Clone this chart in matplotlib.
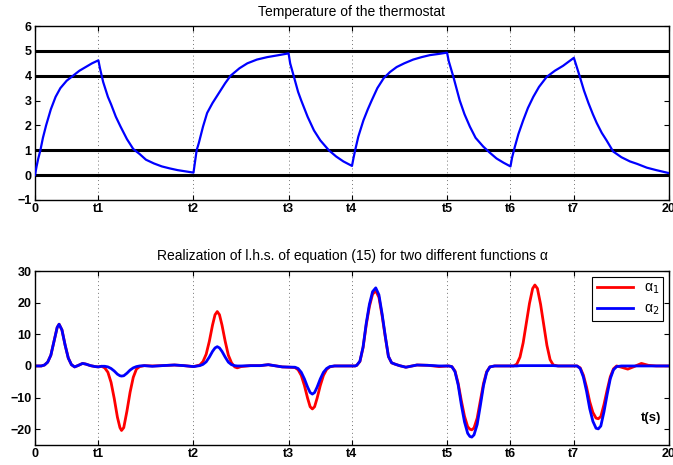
import matplotlib
matplotlib.use('Agg')
import matplotlib.pyplot as plt

plt.rcParams['font.family'] = ['Liberation Sans', 'DejaVu Sans']

# x axis: switching instants
tick_pos = [0, 2, 5, 8, 10, 13, 15, 17, 20]
tick_lab = ['0', 't1', 't2', 't3', 't4', 't5', 't6', 't7', '20']

# top panel: thermostat temperature
t_temp = [0.0, 0.05, 0.1, 0.17, 0.25, 0.35, 0.5, 0.65, 0.8, 1.0, 1.2, 1.4, 1.6, 1.8, 2.0,
          2.05, 2.15, 2.3, 2.4, 2.55, 2.7, 2.9, 3.1, 3.3, 3.5, 3.75, 4.0, 4.25, 4.5, 4.75, 5.0,
          5.05, 5.1, 5.17, 5.3, 5.43, 5.6, 5.75, 6.0, 6.17, 6.45, 6.7, 7.0, 7.33, 7.65, 8.0,
          8.05, 8.17, 8.3, 8.4, 8.6, 8.8, 9.0, 9.27, 9.5, 9.73, 10.0,
          10.05, 10.1, 10.2, 10.36, 10.5, 10.62, 10.8, 11.0, 11.2, 11.41, 11.65, 11.93, 12.2, 12.46, 12.75, 13.0,
          13.05, 13.2, 13.4, 13.55, 13.72, 13.9, 14.14, 14.35, 14.56, 14.78, 15.0,
          15.05, 15.14, 15.25, 15.4, 15.55, 15.72, 15.9, 16.14, 16.4, 16.66, 16.85, 17.0,
          17.08, 17.19, 17.32, 17.46, 17.6, 17.72, 17.88, 18.03, 18.24, 18.5, 18.77, 19.0, 19.3, 19.6, 20.0]
temp = [0.0, 0.35, 0.65, 1.0, 1.5, 2.0, 2.65, 3.15, 3.5, 3.8, 4.0, 4.2, 4.35, 4.5, 4.62,
        4.3, 3.75, 3.15, 2.85, 2.35, 1.95, 1.45, 1.05, 0.85, 0.62, 0.47, 0.35, 0.27, 0.2, 0.15, 0.1,
        0.55, 1.0, 1.3, 1.95, 2.5, 2.9, 3.2, 3.7, 4.0, 4.3, 4.5, 4.65, 4.75, 4.82, 4.9,
        4.5, 3.95, 3.35, 3.0, 2.35, 1.8, 1.4, 1.0, 0.75, 0.55, 0.37,
        0.7, 1.0, 1.55, 2.2, 2.65, 3.0, 3.5, 3.9, 4.15, 4.35, 4.5, 4.65, 4.75, 4.83, 4.88, 4.93,
        4.6, 3.95, 3.0, 2.45, 1.95, 1.5, 1.15, 0.9, 0.67, 0.5, 0.35,
        0.7, 1.15, 1.65, 2.2, 2.7, 3.15, 3.55, 3.95, 4.2, 4.4, 4.58, 4.72,
        4.4, 3.95, 3.4, 2.9, 2.45, 2.1, 1.7, 1.4, 0.95, 0.72, 0.55, 0.45, 0.3, 0.2, 0.08]
levels = [0, 1, 4, 5]

# bottom panel: l.h.s. of equation (15) for alpha_1 and alpha_2
t_eq = [0.0, 0.2, 0.3, 0.4, 0.5, 0.6, 0.7, 0.76, 0.85, 0.95, 1.05, 1.15, 1.25, 1.35, 1.5, 1.6, 1.75, 1.9, 2.0,
        2.1, 2.2, 2.3, 2.4, 2.5, 2.6, 2.68, 2.73, 2.8, 2.9, 3.0, 3.1, 3.2, 3.3, 3.45, 3.7, 4.0, 4.4, 4.7, 5.0,
        5.2, 5.3, 5.4, 5.5, 5.6, 5.68, 5.75, 5.82, 5.9, 6.0, 6.1, 6.2, 6.3, 6.38, 6.5, 6.8, 7.1, 7.36, 7.6, 7.8,
        8.2, 8.3, 8.4, 8.5, 8.6, 8.68, 8.75, 8.82, 8.9, 9.0, 9.1, 9.2, 9.3, 9.45, 9.8, 10.1,
        10.15, 10.25, 10.35, 10.45, 10.55, 10.65, 10.75, 10.85, 10.95, 11.05, 11.15, 11.25, 11.35, 11.5, 11.7,
        11.9, 12.05, 12.4, 12.75, 13.05,
        13.15, 13.25, 13.35, 13.45, 13.55, 13.65, 13.72, 13.78, 13.85, 13.95, 14.05, 14.15, 14.25, 14.35, 14.5,
        14.8, 15.0,
        15.1, 15.2, 15.3, 15.4, 15.5, 15.6, 15.7, 15.77, 15.85, 15.95, 16.05, 16.15, 16.25, 16.35, 16.5, 16.8, 17.0,
        17.1, 17.2, 17.3, 17.4, 17.5, 17.6, 17.7, 17.77, 17.85, 17.95, 18.05, 18.15, 18.25, 18.35, 18.5, 18.7,
        18.9, 19.13, 19.35, 19.6, 20.0]
eq_a1 = [0, 0, 0.3, 1.2, 3.4, 7.8, 12.2, 13.2, 11.4, 6.6, 2.5, 0.4, -0.3, 0.1, 0.8, 0.6, 0.1, -0.2, -0.3,
         -0.1, -0.6, -2.0, -5.2, -10.3, -16.2, -19.5, -20.4, -19.5, -14.3, -8.3, -3.6, -1.0, -0.2, 0.1, 0, 0.1, 0.3, 0.1, -0.2,
         0.3, 1.4, 3.7, 7.8, 12.9, 16.2, 17.2, 16.2, 12.9, 7.8, 3.4, 1.0, -0.3, -0.6, -0.2, 0.1, 0.1, 0.4, 0, -0.3,
         -0.5, -1.2, -3.0, -6.2, -10.2, -12.9, -13.6, -12.9, -10.2, -6.2, -3.0, -1.1, -0.3, 0, 0, 0,
         0.2, 1.4, 5.8, 13.0, 18.8, 22.7, 23.8, 21.7, 15.9, 9.2, 3.0, 1.0, 0.6, 0.1, -0.4,
         0, 0.3, 0.2, -0.2, 0,
         -0.2, -1.6, -5.5, -11.0, -15.9, -19.2, -20.0, -20.2, -19.6, -16.5, -11.0, -5.5, -1.8, -0.3, 0,
         0, 0,
         0, 0.6, 2.8, 7.3, 13.5, 19.8, 24.5, 25.6, 24.5, 19.5, 13.0, 6.5, 2.0, 0.3, 0, 0, 0,
         0, -0.6, -2.9, -6.7, -11.3, -14.7, -16.5, -16.7, -16.0, -12.2, -7.6, -3.4, -0.9, 0, -0.4, -1.0,
         -0.2, 0.8, 0.2, 0, 0]
eq_a2 = [0, 0, 0.3, 1.2, 3.4, 7.8, 12.2, 13.2, 11.4, 6.6, 2.5, 0.4, -0.3, 0.1, 0.8, 0.6, 0.1, -0.2, -0.3,
         -0.1, -0.1, -0.3, -0.8, -1.6, -2.6, -3.1, -3.2, -3.1, -2.3, -1.3, -0.6, -0.2, 0, 0.1, -0.1, 0.1, 0.3, 0.1, -0.2,
         0.1, 0.5, 1.3, 2.8, 4.6, 5.7, 6.1, 5.7, 4.6, 2.8, 1.2, 0.4, 0.1, 0, 0, 0.1, 0.1, 0.4, 0, -0.3,
         -0.4, -0.8, -2.0, -4.1, -6.7, -8.4, -8.9, -8.4, -6.7, -4.1, -2.0, -0.8, -0.2, 0, 0, 0,
         0.2, 1.5, 6.0, 13.5, 19.5, 23.5, 24.7, 22.5, 16.5, 9.5, 3.0, 1.0, 0.6, 0.1, -0.4,
         0, 0.3, 0.2, 0, 0,
         -0.2, -1.8, -6.0, -12.3, -17.7, -21.3, -22.3, -22.5, -21.8, -18.5, -12.5, -6.2, -2.0, -0.3, 0,
         0, 0,
         0, 0, 0.1, 0.1, 0.1, 0.1, 0.1, 0.1, 0.1, 0.1, 0.1, 0.1, 0.1, 0.1, 0, 0, 0,
         0, -0.8, -3.5, -8.0, -13.5, -17.5, -19.7, -19.9, -19.0, -14.5, -9.0, -4.0, -1.2, -0.2, 0, 0,
         0, 0, 0, 0, 0]


def matlab_style(ax):
    ax.set_xlim(0, 20)
    ax.set_xticks(tick_pos)
    ax.set_xticklabels(tick_lab)
    ax.tick_params(direction='in', top=True, right=True, length=3.5, width=0.8,
                   labelsize=9, pad=2.5)
    for lab in ax.get_xticklabels() + ax.get_yticklabels():
        lab.set_fontweight('bold')
    ax.grid(True, axis='x', linestyle=(0, (1, 3)), color='0.45', lw=0.7)
    for s in ax.spines.values():
        s.set_linewidth(1.0)


fig = plt.figure(figsize=(6.73, 4.65), dpi=100)

ax1 = fig.add_axes([0.052, 0.570, 0.942, 0.374])
for lv in levels:
    ax1.axhline(lv, color='k', lw=2.2, zorder=2)
ax1.plot(t_temp, temp, color='b', lw=1.6, zorder=3)
ax1.set_ylim(-1, 6)
ax1.set_yticks(range(-1, 7))
matlab_style(ax1)
ax1.set_title('Temperature of the thermostat', fontsize=10, pad=7)

ax2 = fig.add_axes([0.052, 0.043, 0.942, 0.374])
ax2.plot(t_eq, eq_a1, color='r', lw=2, label='α$_1$')
ax2.plot(t_eq, eq_a2, color='b', lw=2, label='α$_2$')
ax2.set_ylim(-25, 30)
ax2.set_yticks([-20, -10, 0, 10, 20, 30])
matlab_style(ax2)
ax2.set_title('Realization of l.h.s. of equation (15) for two different functions α',
              fontsize=10, pad=8)
ax2.text(19.75, -16.5, 't(s)', fontsize=9.5, fontweight='bold', ha='right', va='center')
leg = ax2.legend(loc='upper right', fontsize=10, fancybox=False, edgecolor='k',
                 framealpha=1, handlelength=2.6, borderaxespad=0.4, borderpad=0.3,
                 labelspacing=0.4)
leg.get_frame().set_linewidth(0.8)

fig.savefig('out.png', dpi=100)
